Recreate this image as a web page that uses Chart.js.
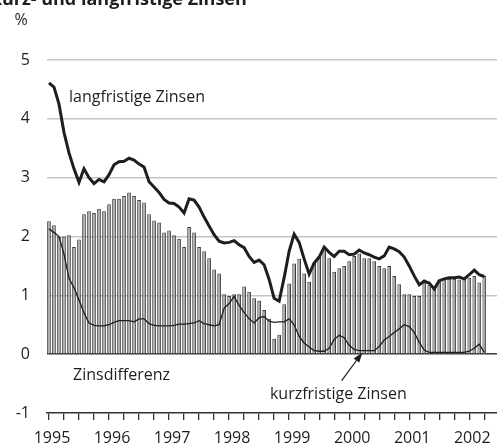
<!DOCTYPE html>
<html>
<head>
<meta charset="utf-8">
<script src="https://cdn.jsdelivr.net/npm/chart.js@4.4.1/dist/chart.umd.min.js"></script>
<style>
  html, body { margin: 0; padding: 0; background: #fff; }
  #wrap { width: 497px; height: 446px; }
</style>
</head>
<body>
<div id="wrap"><canvas id="zinsChart" width="497" height="446"></canvas></div>
<script>
// Monatswerte Jan 1995 - Apr 2002 (in %)
const startYear = 1995;
const yearLabels = [1995, 1996, 1997, 1998, 1999, 2000, 2001, 2002];

const zinsdifferenz = [
  2.26, 2.19, 1.99, 2.00, 2.02, 1.82, 1.95, 2.38, 2.43, 2.40, 2.47, 2.43,
  2.55, 2.64, 2.64, 2.69, 2.75, 2.69, 2.62, 2.58, 2.38, 2.27, 2.24, 2.07,
  2.10, 2.02, 1.96, 1.82, 2.16, 2.07, 1.82, 1.75, 1.63, 1.44, 1.37, 1.02,
  0.99, 1.02, 1.02, 1.15, 1.06, 0.95, 0.91, 0.75, 0.60, 0.26, 0.33, 0.85,
  1.20, 1.54, 1.62, 1.37, 1.23, 1.56, 1.65, 1.80, 1.63, 1.40, 1.46, 1.50,
  1.58, 1.67, 1.71, 1.63, 1.63, 1.58, 1.50, 1.46, 1.50, 1.33, 1.19, 1.02,
  1.02, 0.99, 0.99, 1.27, 1.18, 1.13, 1.26, 1.28, 1.28, 1.28, 1.27, 1.28,
  1.30, 1.33, 1.22, 1.33
];

const langfristig = [
  4.61, 4.54, 4.25, 3.77, 3.42, 3.15, 2.92, 3.15, 3.00, 2.90, 2.97, 2.93,
  3.05, 3.22, 3.27, 3.28, 3.33, 3.30, 3.23, 3.18, 2.93, 2.84, 2.75, 2.63,
  2.57, 2.56, 2.50, 2.40, 2.64, 2.62, 2.50, 2.33, 2.18, 2.03, 1.92, 1.89,
  1.90, 1.93, 1.86, 1.81, 1.66, 1.56, 1.60, 1.52, 1.27, 0.95, 0.90, 1.30,
  1.75, 2.04, 1.90, 1.62, 1.36, 1.55, 1.65, 1.82, 1.73, 1.66, 1.75, 1.75,
  1.69, 1.70, 1.77, 1.72, 1.69, 1.65, 1.62, 1.67, 1.82, 1.79, 1.74, 1.65,
  1.50, 1.33, 1.18, 1.24, 1.21, 1.11, 1.25, 1.28, 1.30, 1.30, 1.31, 1.28,
  1.35, 1.43, 1.35, 1.32
];

const kurzfristig = [
  2.13, 2.07, 2.00, 1.70, 1.29, 1.13, 0.92, 0.70, 0.53, 0.49, 0.48, 0.48,
  0.50, 0.54, 0.57, 0.57, 0.57, 0.55, 0.60, 0.60, 0.52, 0.49, 0.48, 0.48,
  0.48, 0.49, 0.51, 0.51, 0.52, 0.53, 0.57, 0.52, 0.50, 0.48, 0.50, 0.78,
  0.86, 0.98, 0.83, 0.71, 0.60, 0.53, 0.62, 0.64, 0.56, 0.54, 0.55, 0.55,
  0.60, 0.50, 0.30, 0.19, 0.12, 0.06, 0.05, 0.05, 0.10, 0.25, 0.32, 0.28,
  0.15, 0.08, 0.06, 0.06, 0.06, 0.06, 0.13, 0.24, 0.30, 0.37, 0.43, 0.50,
  0.47, 0.37, 0.20, 0.07, 0.03, 0.03, 0.03, 0.03, 0.03, 0.03, 0.03, 0.03,
  0.05, 0.10, 0.17, 0.03
];

// Zeitachse: Monat i -> Jahr + i/12
const months = zinsdifferenz.map((_, i) => startYear + i / 12);
const toPoints = arr => arr.map((v, i) => ({ x: months[i], y: v }));

const FONT = '"Open Sans", "DejaVu Sans", sans-serif';
const INK = '#1e1e1e';

// Beschriftungen im Diagramm
const textPlugin = {
  id: 'beschriftung',
  afterDraw(chart) {
    const c = chart.ctx;
    const xs = chart.scales.x, ys = chart.scales.y;
    c.save();
    c.fillStyle = INK;
    c.textBaseline = 'middle';
    c.textAlign = 'left';
    c.font = '16px ' + FONT;
    c.fillText('langfristige Zinsen', xs.getPixelForValue(1995.333), ys.getPixelForValue(4.36));
    c.fillText('Zinsdifferenz', xs.getPixelForValue(1995.4), ys.getPixelForValue(-0.37));
    c.fillText('kurzfristige Zinsen', xs.getPixelForValue(1998.68), ys.getPixelForValue(-0.68));
    c.textAlign = 'center';
    c.fillText('%', 21, 20);

    // Titel (oben angeschnitten)
    c.textAlign = 'left';
    c.textBaseline = 'alphabetic';
    c.font = 'bold 18px ' + FONT;
    c.fillText('Kurz- und langfristige Zinsen', -10, 5);

    // Pfeil auf kurzfristige Zinsen
    const x1 = xs.getPixelForValue(1999.875), y1 = ys.getPixelForValue(-0.45);
    const x2 = xs.getPixelForValue(2000.22), y2 = ys.getPixelForValue(0.03);
    const ang = Math.atan2(y2 - y1, x2 - x1);
    c.strokeStyle = INK;
    c.lineWidth = 1.2;
    c.beginPath();
    c.moveTo(x1, y1);
    c.lineTo(x2 - 6 * Math.cos(ang), y2 - 6 * Math.sin(ang));
    c.stroke();
    c.beginPath();
    c.moveTo(x2, y2);
    c.lineTo(x2 - 10 * Math.cos(ang) + 3.5 * Math.sin(ang), y2 - 10 * Math.sin(ang) - 3.5 * Math.cos(ang));
    c.lineTo(x2 - 10 * Math.cos(ang) - 3.5 * Math.sin(ang), y2 - 10 * Math.sin(ang) + 3.5 * Math.cos(ang));
    c.closePath();
    c.fill();
    c.restore();
  }
};

const ctx = document.getElementById('zinsChart');
new Chart(ctx, {
  type: 'bar',
  data: {
    datasets: [
      {
        type: 'line',
        label: 'langfristige Zinsen',
        data: toPoints(langfristig),
        borderColor: INK,
        borderWidth: 3,
        pointRadius: 0,
        tension: 0,
        order: 0
      },
      {
        type: 'line',
        label: 'kurzfristige Zinsen',
        data: toPoints(kurzfristig),
        borderColor: INK,
        borderWidth: 1.3,
        pointRadius: 0,
        tension: 0,
        order: 1
      },
      {
        type: 'bar',
        label: 'Zinsdifferenz',
        data: toPoints(zinsdifferenz),
        backgroundColor: '#a6a6a6',
        borderColor: '#3c3c3c',
        borderWidth: 1,
        barPercentage: 0.74,
        categoryPercentage: 1,
        order: 2
      }
    ]
  },
  options: {
    responsive: false,
    animation: false,
    layout: { padding: { left: 0, right: 0, top: 60, bottom: 0 } },
    plugins: {
      legend: { display: false },
      tooltip: { enabled: false },
      title: { display: false }
    },
    scales: {
      x: {
        type: 'linear',
        offset: false,
        min: 1994.967,
        max: 2002.462,
        afterFit(scale) { scale.height = 33; },
        afterBuildTicks(scale) {
          const t = [];
          for (let q = 0; q <= 29; q++) t.push({ value: startYear + q / 4 });
          scale.ticks = t;
        },
        ticks: {
          autoSkip: false,
          maxRotation: 0,
          padding: 9,
          labelOffset: 3,
          color: INK,
          font: { family: FONT, size: 16 },
          callback: function (v) {
            const r = Math.round(v);
            return (Math.abs(v - r) < 1e-6 && yearLabels.includes(r)) ? String(r) : '';
          }
        },
        grid: {
          offset: false,
          drawOnChartArea: false,
          drawTicks: true,
          tickLength: 7,
          color: '#333',
          lineWidth: 1.3
        },
        border: { display: true, color: '#333', width: 1.5 }
      },
      y: {
        min: -1,
        max: 5,
        afterFit(scale) { scale.width = 47; },
        ticks: {
          stepSize: 1,
          padding: 17,
          color: INK,
          font: { family: FONT, size: 16 }
        },
        grid: {
          drawTicks: false,
          color: c => c.tick.value === 0 ? '#3a3a3a' : (c.tick.value === -1 ? 'rgba(0,0,0,0)' : '#c4c4c4'),
          lineWidth: 1.5
        },
        border: { display: false }
      }
    }
  },
  plugins: [textPlugin]
});
</script>
</body>
</html>
